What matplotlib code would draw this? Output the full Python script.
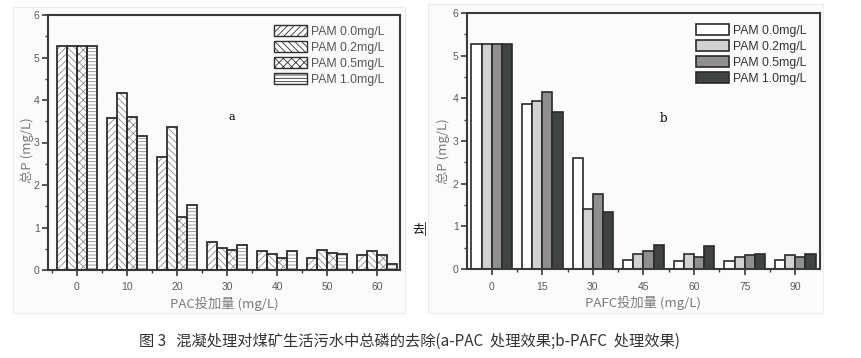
import matplotlib
matplotlib.use("Agg")
import matplotlib.pyplot as plt
import numpy as np
from matplotlib.patches import Rectangle
from matplotlib.ticker import MultipleLocator, FixedLocator

plt.rcParams['font.family'] = ['Liberation Sans', 'Noto Sans CJK SC', 'DejaVu Sans']
plt.rcParams['hatch.linewidth'] = 0.6

series_labels = ["PAM 0.0mg/L", "PAM 0.2mg/L", "PAM 0.5mg/L", "PAM 1.0mg/L"]

# Panel a: PAC dose
pac_dose = [0, 10, 20, 30, 40, 50, 60]
pac_vals = [
    [5.27, 3.57, 2.67, 0.65, 0.45, 0.28, 0.35],   # PAM 0.0
    [5.27, 4.17, 3.36, 0.52, 0.38, 0.48, 0.45],   # PAM 0.2
    [5.27, 3.61, 1.25, 0.46, 0.28, 0.41, 0.35],   # PAM 0.5
    [5.27, 3.15, 1.54, 0.58, 0.45, 0.37, 0.14],   # PAM 1.0
]

# Panel b: PAFC dose
pafc_dose = [0, 15, 30, 45, 60, 75, 90]
pafc_vals = [
    [5.27, 3.87, 2.59, 0.22, 0.19, 0.19, 0.22],
    [5.27, 3.94, 1.41, 0.35, 0.36, 0.29, 0.33],
    [5.27, 4.16, 1.75, 0.43, 0.29, 0.33, 0.29],
    [5.27, 3.67, 1.34, 0.57, 0.53, 0.36, 0.36],
]

caption = "图 3   混凝处理对煤矿生活污水中总磷的去除(a-PAC  处理效果;b-PAFC  处理效果)"

W, H = 862, 358
fig = plt.figure(figsize=(W / 100, H / 100), dpi=100)
fig.patch.set_facecolor("white")

def px_axes(l, t, r, b):
    ax = fig.add_axes([l / W, 1 - b / H, (r - l) / W, (b - t) / H])
    ax.set_zorder(2)
    return ax

# faint panel image backgrounds
for (l, t, r, b) in [(13, 7, 405, 313), (428, 4, 823, 313)]:
    bg = fig.add_axes([l / W, 1 - b / H, (r - l) / W, (b - t) / H])
    bg.set_zorder(0)
    bg.set_facecolor("#fbfbfb")
    bg.set_xticks([]); bg.set_yticks([])
    for s in bg.spines.values():
        s.set_color("#ececec"); s.set_linewidth(0.8)

axis_col = "#3a3a3a"
tick_col = "#5a5a5a"
label_col = "#7a7a7a"

def style_axes(ax, xticks, xlim, minor_x):
    ax.set_facecolor("none")
    for s in ax.spines.values():
        s.set_color(axis_col)
        s.set_linewidth(1.5)
    ax.set_ylim(0, 6)
    ax.set_xlim(*xlim)
    ax.yaxis.set_major_locator(MultipleLocator(1))
    ax.yaxis.set_minor_locator(MultipleLocator(0.5))
    ax.xaxis.set_major_locator(FixedLocator(xticks))
    ax.xaxis.set_minor_locator(FixedLocator(minor_x))
    ax.tick_params(axis='both', which='major', direction='out', length=4, width=1.2,
                   color=axis_col, labelcolor=tick_col, labelsize=7.5, pad=2)
    ax.tick_params(axis='y', which='minor', direction='out', length=2.5, width=1, color=axis_col)
    ax.tick_params(axis='x', which='minor', direction='out', length=2, width=1, color=axis_col)
    ax.tick_params(axis='x', which='major', pad=5)

leg_kw = dict(loc="upper left", frameon=False, fontsize=8.8, handlelength=2.7,
              handleheight=1.0, labelspacing=0.28, handletextpad=0.35,
              borderaxespad=0, borderpad=0)

# ---------- Panel a ----------
axa = px_axes(48, 15, 400, 270)
hatches = ['/////', '\\\\\\\\\\', 'xxxx', '-----']
bw_a = 2.0
xa = np.array(pac_dose, dtype=float)
for i, (vals, lab, h) in enumerate(zip(pac_vals, series_labels, hatches)):
    axa.bar(xa + (i - 1.5) * bw_a, vals, width=bw_a, facecolor="white",
            edgecolor="#8a8a8a", hatch=h, linewidth=0, label=lab, zorder=2)
    axa.bar(xa + (i - 1.5) * bw_a, vals, width=bw_a, facecolor="none",
            edgecolor="#2e2e2e", linewidth=1.3, zorder=3)
style_axes(axa, pac_dose, (-5.8, 64.6), [d + 5 for d in pac_dose[:-1]] + [-5])
axa.set_xlabel("PAC投加量 (mg/L)", fontsize=9.5, color=label_col,
               family=['Noto Sans CJK SC'], labelpad=3)
axa.set_ylabel("总P (mg/L)", fontsize=9.5, color=label_col,
               family=['Noto Sans CJK SC'])
axa.yaxis.set_label_coords((34 - 48) / 352, 0.47)
handles_a = [Rectangle((0, 0), 1, 1, facecolor="white", edgecolor="#2e2e2e",
                       hatch=h, linewidth=1.0) for h in hatches]
axa.legend(handles_a, series_labels, labelcolor="#555555",
           bbox_to_anchor=((274 - 48) / 352, (270 - 25) / 255), **leg_kw)

# ---------- Panel b ----------
axb = px_axes(467, 13, 820, 269)
colors_b = ["#ffffff", "#d2d2d2", "#8f8f8f", "#3e4444"]
bw_b = 3.0
xb = np.array(pafc_dose, dtype=float)
for i, (vals, lab, c) in enumerate(zip(pafc_vals, series_labels, colors_b)):
    axb.bar(xb + (i - 1.5) * bw_b, vals, width=bw_b, facecolor=c,
            edgecolor="#2a2a2a", linewidth=1.2, label=lab, zorder=2)
style_axes(axb, pafc_dose, (-7.3, 97.3), [d + 7.5 for d in pafc_dose[:-1]] + [-7.5])
axb.set_xlabel("PAFC投加量 (mg/L)", fontsize=9.5, color=label_col,
               family=['Noto Sans CJK SC'], labelpad=3)
axb.set_ylabel("总P (mg/L)", fontsize=9.5, color=label_col,
               family=['Noto Sans CJK SC'])
axb.yaxis.set_label_coords((450 - 467) / 353, 0.46)
axb.legend(labelcolor="#333333",
           bbox_to_anchor=((696 - 467) / 353, (269 - 24) / 256), **leg_kw)

# pixel coords (top-left origin) to figure fraction
def ft(x, y, s, **kw):
    t = fig.text(x / W, 1 - y / H, s, **kw)
    t.set_zorder(5)
    return t

ft(232, 117, "a", fontsize=8, family=['DejaVu Serif'], ha='center', va='center')
ft(663, 118, "b", fontsize=8.5, family=['DejaVu Serif'], ha='center', va='center')
ft(412, 229, "去|", fontsize=8.5, family=['Noto Sans CJK SC'], va='center')
ft(409, 341, caption, fontsize=11, family=['Noto Sans CJK SC', 'DejaVu Sans'],
   ha='center', va='center', color="#333333")

fig.savefig("out.png", dpi=100, facecolor="white")
